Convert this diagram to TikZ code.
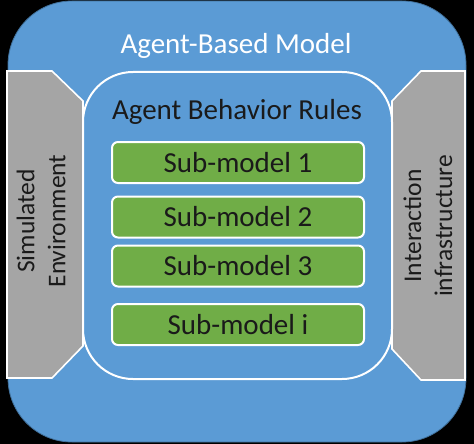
\documentclass[tikz,border=0pt]{standalone}
\usepackage{fontspec}
\setmainfont{Carlito}
\definecolor{abmblue}{HTML}{5B9BD5}
\definecolor{abmedge}{HTML}{41719C}
\definecolor{abmgreen}{HTML}{70AD47}
\definecolor{abmgray}{HTML}{A5A5A5}
\definecolor{abmtext}{HTML}{1A1A1A}
\tikzset{
  panel/.style={fill=abmgray, draw=white, line width=1.6pt},
  inner/.style={fill=abmblue, draw=white, line width=2pt, rounded corners=50pt},
  submodel/.style={fill=abmgreen, draw=white, line width=2pt, rounded corners=6pt,
     minimum width=252pt, minimum height=41pt, inner sep=0pt,
     font=\fontsize{29}{33}\selectfont, text=abmtext},
  sidelabel/.style={rotate=90, align=center, text=abmtext,
     font=\fontsize{25.5}{31}\selectfont},
}
\begin{document}
\begin{tikzpicture}[x=1pt,y=-1pt]
\fill[black] (0,0) rectangle (474,444);
\useasboundingbox (0,0) rectangle (474,444);
% outer box
\draw[fill=abmblue, draw=abmedge, line width=0.8pt, rounded corners=64pt]
  (8,1) rectangle (466,442);
% side panels
\draw[panel] (7,71) -- (52,71) -- (83,101) -- (83,346) -- (52,378) -- (7,378) -- cycle;
\draw[panel] (465,71) -- (421,71) -- (392,101) -- (392,349) -- (421,380) -- (465,380) -- cycle;
% inner rounded box
\draw[inner] (83,72) rectangle (392,379);
% titles
\node[anchor=base, text=white, font=\fontsize{29}{33}\selectfont] (abm) at (236,54) {Agent-Based Model};
\node[anchor=base, text=abmtext, font=\fontsize{29}{33}\selectfont] (rules) at (237,119) {Agent Behavior Rules};
% sub-models
\node[submodel] (s1) at (238,162.5) {Sub-model 1};
\node[submodel] (s2) at (238,217) {Sub-model 2};
\node[submodel] (s3) at (238,266) {Sub-model 3};
\node[submodel] (si) at (238,324.5) {Sub-model i};
% side labels
\node[sidelabel] (env) at (41,221) {Simulated\\Environment};
\node[sidelabel] (infra) at (428,226) {Interaction\\infrastructure};
\end{tikzpicture}
\end{document}
